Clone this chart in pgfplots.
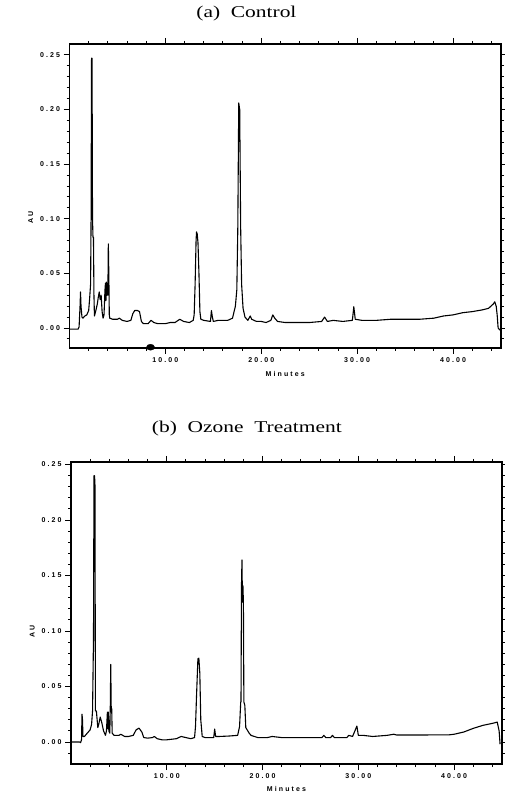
\documentclass[border=0pt]{standalone}
\usepackage{fontspec}
\usepackage{pgfplots}
\pgfplotsset{compat=1.18}
\newfontfamily\tickfont{Liberation Sans}[LetterSpace=30]
\newfontfamily\titlefont{Liberation Serif}[FakeStretch=1.3]
\newcommand\smallbold{\tickfont\bfseries\fontsize{7}{8}\selectfont}

\pgfplotsset{
  chrom/.style={
    scale only axis,
    width=431.5pt, height=304pt,
    anchor=south west,
    xmin=0, xmax=45,
    xtick={10,20,30,40},
    minor xtick={2,4,6,8,12,14,16,18,22,24,26,28,32,34,36,38,42,44},
    ytick={0,0.05,0.1,0.15,0.2,0.25},
    minor ytick={-0.01,0.01,0.02,0.03,0.04,0.06,0.07,0.08,0.09,0.11,0.12,0.13,0.14,0.16,0.17,0.18,0.19,0.21,0.22,0.23,0.24},
    tick align=outside,
    major tick length=6pt,
    minor tick length=3pt,
    every tick/.style={black, line width=0.9pt},
    axis line style={line width=1.1pt},
    xticklabel style={/pgf/number format/.cd, fixed, fixed zerofill, precision=2},
    yticklabel style={/pgf/number format/.cd, fixed, fixed zerofill, precision=2},
    /pgf/number format/assume math mode=true,
    tick label style={font=\smallbold},
    xlabel={Minutes},
    ylabel={AU},
    every axis x label/.style={at={(axis description cs:0.5,0)}, anchor=center, yshift=-26pt, font=\smallbold},
    every axis y label/.style={at={(axis description cs:-0.09,0.43)}, anchor=center, rotate=90, font=\smallbold},
    title style={font=\titlefont\fontsize{16.5}{18}\selectfont, anchor=center},
    trace/.style={black, line width=1.1pt, line join=round},
  }
}

\begin{document}
\begin{tikzpicture}
\useasboundingbox (0,0) rectangle (504pt,794pt);

% (a) control
\begin{axis}[chrom, at={(69.5pt,446pt)},
  ymin=-0.0183, ymax=0.260, clip=false,
  title={(a)\ \ Control},
  title style={at={(axis description cs:0.41,1)}, yshift=24pt}]
\addplot[trace] coordinates {
(0.0,-0.001)(0.9,-0.001)(1.0,0.001)(1.1,0.020)(1.15,0.033)(1.2,0.020)(1.3,0.010)
(1.4,0.009)(1.6,0.011)(1.8,0.012)(2.0,0.016)(2.1,0.027)(2.2,0.040)(2.25,0.100)
(2.3,0.247)(2.35,0.247)(2.4,0.100)(2.45,0.083)(2.5,0.083)(2.55,0.030)(2.6,0.011)
(2.75,0.016)(2.9,0.022)(3.0,0.028)(3.1,0.033)(3.2,0.026)(3.3,0.030)(3.4,0.015)
(3.5,0.009)(3.6,0.012)(3.7,0.035)(3.75,0.041)(3.8,0.025)(3.85,0.042)(3.9,0.030)
(3.95,0.041)(4.0,0.030)(4.05,0.077)(4.1,0.050)(4.15,0.012)(4.2,0.009)(4.5,0.008)
(5.0,0.008)(5.2,0.009)(5.5,0.007)(6.0,0.006)(6.4,0.007)(6.6,0.013)(6.8,0.016)
(7.1,0.016)(7.3,0.015)(7.5,0.006)(7.7,0.004)(8.2,0.004)(8.5,0.007)(8.8,0.005)
(9.2,0.004)(10.0,0.004)(10.5,0.005)(11.0,0.005)(11.5,0.008)(11.9,0.006)(12.5,0.005)
(12.9,0.007)(13.0,0.012)(13.1,0.040)(13.2,0.080)(13.25,0.088)(13.32,0.086)(13.4,0.078)
(13.5,0.050)(13.6,0.015)(13.7,0.008)(14.0,0.007)(14.7,0.006)(14.8,0.016)(14.9,0.010)
(15.0,0.006)(15.5,0.007)(16.5,0.007)(17.0,0.009)(17.3,0.020)(17.45,0.035)(17.55,0.090)
(17.65,0.206)(17.75,0.200)(17.85,0.092)(17.95,0.040)(18.1,0.018)(18.3,0.010)(18.6,0.007)
(18.85,0.011)(19.0,0.008)(19.5,0.006)(20.0,0.006)(20.5,0.005)(21.0,0.007)(21.2,0.012)
(21.4,0.009)(21.7,0.006)(22.5,0.005)(24.0,0.005)(25.0,0.005)(26.3,0.006)(26.6,0.010)
(26.9,0.006)(27.5,0.007)(28.5,0.006)(29.5,0.007)(29.65,0.0195)(29.8,0.008)(30.5,0.007)
(32.0,0.007)(33.5,0.008)(35.0,0.008)(36.5,0.008)(38.0,0.009)(39.0,0.011)(40.0,0.012)
(41.0,0.014)(42.0,0.015)(43.0,0.0165)(43.7,0.018)(44.2,0.022)(44.35,0.024)(44.5,0.020)
(44.6,0.012)(44.7,0.000)(44.9,-0.002)
};
% injection marker on the time axis
\addplot[only marks, mark=*, mark size=3pt, mark options={xscale=1.35, fill=black}]
  coordinates {(8.45,-0.0176)};
\end{axis}

% (b) ozone treatment
\begin{axis}[chrom, at={(71pt,30pt)}, width=431pt, height=302pt,
  ymin=-0.0198, ymax=0.2523,
  title={(b)\ \ Ozone\ \ Treatment},
  title style={at={(axis description cs:0.408,1)}, yshift=27pt},
  every axis x label/.style={at={(axis description cs:0.5,0)}, anchor=center, yshift=-24.5pt, font=\smallbold},
  every axis y label/.style={at={(axis description cs:-0.09,0.44)}, anchor=center, rotate=90, font=\smallbold}]
\addplot[trace] coordinates {
(0.0,0.000)(0.9,0.000)(1.0,-0.0005)(1.1,0.002)(1.15,0.025)(1.2,0.020)(1.25,0.005)
(1.4,0.005)(1.7,0.008)(2.0,0.011)(2.15,0.016)(2.25,0.028)(2.35,0.095)(2.4,0.240)
(2.45,0.240)(2.5,0.234)(2.55,0.028)(2.65,0.028)(2.8,0.013)(2.9,0.016)(3.05,0.0225)
(3.2,0.018)(3.4,0.010)(3.6,0.006)(3.7,0.010)(3.8,0.027)(3.85,0.012)(3.9,0.027)
(3.95,0.010)(4.05,0.008)(4.1,0.030)(4.15,0.070)(4.2,0.030)(4.25,0.030)(4.3,0.008)
(4.5,0.006)(5.0,0.006)(5.2,0.007)(5.6,0.005)(6.0,0.005)(6.5,0.006)(6.8,0.011)
(7.1,0.0125)(7.4,0.009)(7.6,0.004)(8.0,0.0035)(8.5,0.004)(8.7,0.005)(9.0,0.003)
(9.5,0.002)(10.0,0.002)(11.0,0.003)(11.5,0.005)(12.0,0.004)(12.5,0.003)(12.9,0.004)
(13.0,0.014)(13.1,0.040)(13.25,0.075)(13.35,0.0755)(13.45,0.062)(13.55,0.020)(13.7,0.005)
(14.0,0.004)(14.9,0.004)(15.0,0.0117)(15.1,0.005)(15.5,0.005)(16.5,0.0054)(17.4,0.006)
(17.6,0.014)(17.72,0.036)(17.75,0.036)(17.8,0.141)(17.85,0.164)(17.9,0.126)(17.95,0.141)
(18.0,0.126)(18.05,0.036)(18.15,0.033)(18.25,0.013)(18.6,0.008)(18.8,0.006)(19.5,0.004)
(20.5,0.004)(21.0,0.005)(22.0,0.004)(24.0,0.004)(26.2,0.004)(26.4,0.006)(26.6,0.004)
(27.1,0.004)(27.3,0.006)(27.5,0.004)(28.8,0.004)(29.0,0.006)(29.4,0.005)(29.85,0.0144)
(30.0,0.006)(30.5,0.006)(31.5,0.005)(33.0,0.006)(33.7,0.007)(34.0,0.0063)(36.0,0.0063)
(39.5,0.0065)(40.0,0.007)(41.0,0.009)(42.0,0.0123)(43.0,0.015)(44.1,0.017)(44.5,0.018)
(44.7,0.010)(44.8,-0.002)
};
\end{axis}
\end{tikzpicture}
\end{document}
